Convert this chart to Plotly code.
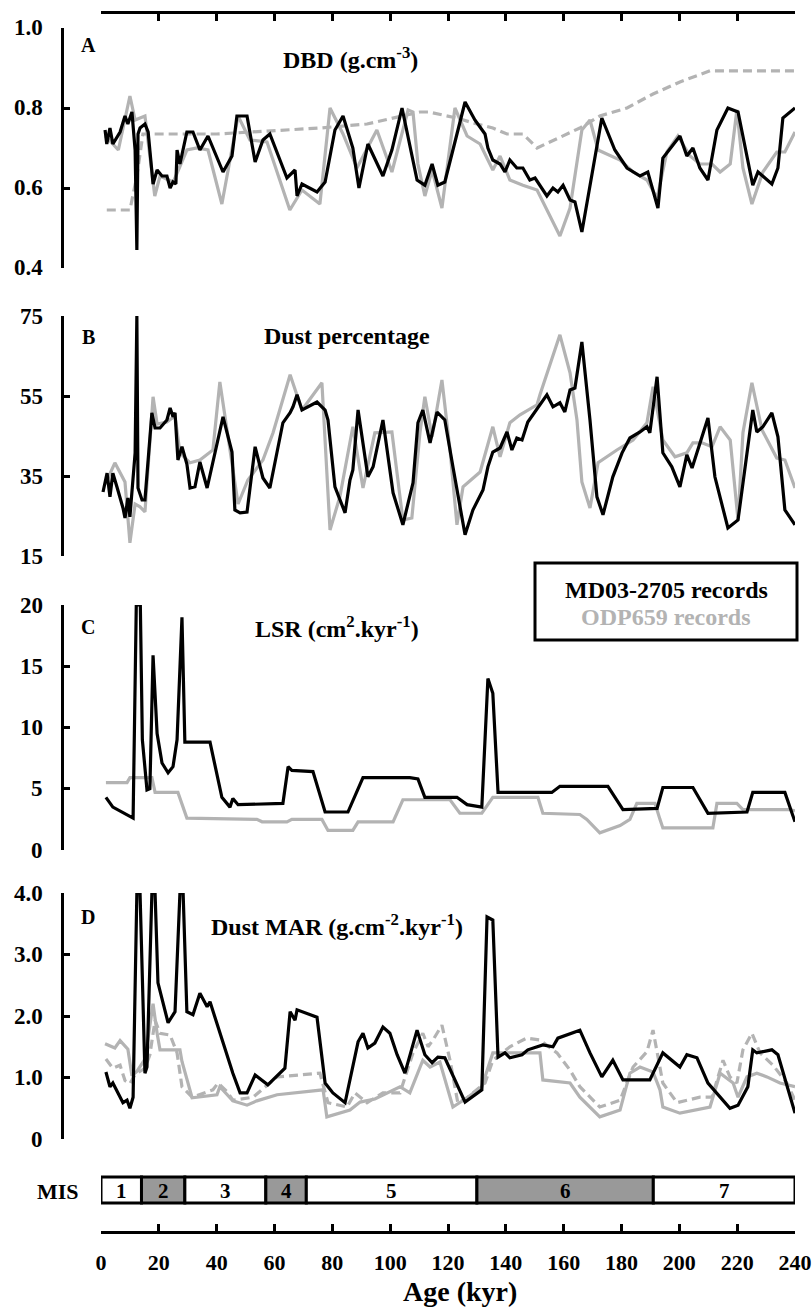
import plotly.graph_objects as go

# ---------------- DATA ----------------
# Panel A: DBD (g.cm-3)
age_A_md = [1.4, 2.0, 3.1, 4.1, 6.6, 8.3, 9.3, 10.7, 11.8, 12.4,
            12.8, 13.5, 15.2, 16.3, 18.0, 19.4, 21.1, 22.8, 23.9, 24.9,
            25.9, 26.3, 27.3, 29.7, 31.8, 34.2, 37.0, 42.2, 45.3, 47.0,
            50.5, 53.3, 56.0, 58.4, 64.3, 67.1, 67.8, 69.5, 74.7, 77.5,
            80.9, 83.7, 87.1, 89.2, 92.3, 97.5, 100.6, 104.1, 109.3, 112.0,
            114.5, 116.5, 118.9, 125.9, 129.3, 132.8, 133.8, 135.5, 138.0, 139.7,
            141.4, 143.8, 145.9, 148.3, 150.1, 154.2, 156.3, 158.0, 159.8, 162.2,
            163.9, 166.3, 173.2, 177.7, 181.9, 186.4, 189.1, 192.6, 194.3, 200.2,
            202.6, 204.7, 207.1, 209.9, 213.0, 216.8, 220.3, 225.4, 227.2, 232.0,
            234.1, 235.8, 240.0]
dbd_md = [0.745, 0.71, 0.75, 0.71, 0.74, 0.78, 0.76, 0.79, 0.695, 0.445,
          0.735, 0.75, 0.76, 0.74, 0.61, 0.645, 0.63, 0.63, 0.60, 0.615,
          0.61, 0.695, 0.66, 0.74, 0.74, 0.695, 0.73, 0.64, 0.68, 0.78,
          0.78, 0.665, 0.72, 0.735, 0.625, 0.645, 0.58, 0.61, 0.59, 0.615,
          0.745, 0.78, 0.70, 0.60, 0.71, 0.63, 0.695, 0.80, 0.62, 0.607,
          0.66, 0.607, 0.615, 0.815, 0.77, 0.735, 0.70, 0.67, 0.66, 0.64,
          0.67, 0.65, 0.65, 0.62, 0.625, 0.58, 0.60, 0.59, 0.607, 0.57,
          0.565, 0.49, 0.775, 0.695, 0.65, 0.63, 0.64, 0.55, 0.675, 0.73,
          0.68, 0.70, 0.65, 0.62, 0.745, 0.80, 0.79, 0.607, 0.64, 0.61,
          0.65, 0.775, 0.80]

age_A_odp = [1.5, 6.0, 10.0, 11.8, 15.2, 18.6, 20.4, 25.0, 29.7, 33.2,
             37.0, 41.8, 47.4, 51.5, 57.4, 65.3, 69.5, 75.7, 79.2, 83.7,
             88.5, 95.4, 100.6, 106.2, 107.9, 109.6, 112.0, 114.5, 117.9, 122.4,
             126.6, 131.1, 135.5, 138.0, 141.4, 145.9, 150.8, 158.7, 162.2, 166.3,
             169.1, 171.9, 179.5, 184.0, 188.8, 192.3, 195.7, 199.5, 203.7, 207.1,
             211.3, 214.1, 217.6, 219.9, 222.0, 225.1, 228.9, 233.7, 236.5, 240.0]
dbd_odp = [0.73, 0.695, 0.83, 0.77, 0.78, 0.58, 0.63, 0.615, 0.695, 0.70,
           0.695, 0.56, 0.78, 0.72, 0.715, 0.545, 0.595, 0.56, 0.80, 0.735,
           0.65, 0.745, 0.64, 0.795, 0.79, 0.66, 0.58, 0.645, 0.55, 0.80,
           0.73, 0.71, 0.645, 0.68, 0.62, 0.607, 0.595, 0.48, 0.55, 0.745,
           0.77, 0.695, 0.67, 0.64, 0.62, 0.575, 0.69, 0.73, 0.68, 0.66,
           0.66, 0.64, 0.66, 0.795, 0.65, 0.56, 0.64, 0.69, 0.69, 0.74]

age_A_odp_dash = [2.0, 10.0, 12.4, 14.5, 40.0, 75.7, 92.0, 110.3, 113.4, 123.0,
                  130.0, 135.5, 140.4, 145.9, 150.8, 155.3, 165.6, 172.5, 181.9, 190.9,
                  200.2, 210.6, 240.0]
dbd_odp_dash = [0.545, 0.545, 0.63, 0.735, 0.735, 0.75, 0.76, 0.79, 0.79, 0.775,
                0.76, 0.75, 0.735, 0.735, 0.70, 0.715, 0.75, 0.78, 0.80, 0.835,
                0.865, 0.893, 0.893]

# Panel B: Dust percentage
age_B_md = [0.7, 2.1, 3.1, 4.1, 5.5, 7.6, 8.3, 9.3, 10.0, 11.8,
            12.4, 12.8, 14.2, 15.2, 17.6, 18.7, 20.4, 22.8, 23.9, 24.9,
            25.6, 26.3, 26.6, 28.0, 29.7, 30.8, 32.5, 34.2, 36.7, 42.2,
            45.3, 46.3, 48.1, 50.5, 53.3, 56.0, 58.4, 62.9, 65.4, 66.4,
            67.8, 69.5, 74.7, 77.5, 78.5, 80.9, 84.4, 86.1, 87.1, 88.9,
            92.3, 94.1, 97.5, 101.0, 104.4, 107.9, 109.6, 111.3, 113.8, 116.2,
            118.9, 121.7, 125.9, 128.6, 132.1, 133.8, 135.5, 138.0, 140.4, 142.1,
            143.8, 145.6, 147.6, 154.2, 156.3, 158.7, 160.4, 162.2, 163.9, 166.3,
            169.1, 171.5, 173.6, 177.0, 180.2, 182.9, 186.4, 188.8, 189.8, 192.3,
            194.3, 197.4, 200.2, 202.6, 204.4, 209.9, 212.3, 216.8, 220.3, 225.4,
            226.8, 228.9, 232.0, 234.1, 236.5, 240.0]
dust_md = [31, 35.7, 29.8, 35.7, 32.3, 27, 24.5, 29.5, 24.8, 40.8,
           75, 32, 29, 29, 50.8, 47, 47, 49, 52, 49.8,
           50.8, 44, 39, 42.3, 38, 32, 32.3, 38.5, 32, 49.8,
           41, 26.5, 25.8, 26, 42.3, 34.5, 32, 48.3, 50.8, 52.3,
           55.3, 51.5, 53.5, 51.5, 49, 32.3, 25.8, 34, 36.5, 51.5,
           34.8, 37.3, 49, 30.8, 22.8, 33.3, 48.3, 51.5, 43.3, 51,
           49, 37.3, 20.3, 26.5, 31.5, 37.3, 41, 42, 46, 41.5,
           44.5, 44, 48.5, 55.3, 52.3, 53.3, 51, 56.5, 57, 68.5,
           49, 29.8, 25.3, 34.8, 40.8, 44.5, 46, 47.3, 45.8, 59.8,
           40.8, 37.3, 32.3, 40.3, 37, 49.5, 34.8, 22, 24, 51.5,
           46, 47.3, 50.8, 44.8, 26.5, 22.8]

age_B_odp = [1.5, 4.8, 8.3, 10.0, 11.8, 13.5, 15.2, 18.0, 19.4, 22.8, 25.6,
             27.3, 30.8, 34.2, 38.7, 41.1, 47.4, 50.8, 56.0, 59.5, 65.4,
             69.5, 76.4, 79.2, 82.6, 87.1, 90.6, 94.7, 100.6, 104.4, 107.5,
             110.3, 112.0, 114.5, 117.9, 120.7, 123.1, 125.2, 131.1, 135.5, 138.0,
             141.4, 144.9, 150.8, 151.8, 158.7, 162.2, 164.6, 166.3, 169.1, 171.9,
             178.4, 184.0, 188.8, 190.9, 194.3, 198.5, 202.6, 204.7, 207.8, 211.3,
             214.1, 217.6, 220.3, 222.0, 225.1, 228.6, 233.7, 236.5, 240.0]
dust_odp = [33, 38.3, 33.5, 18.3, 28, 27.3, 26, 54.8, 48, 48.5, 50,
            40.8, 38.3, 39, 41.5, 58.5, 28, 34, 39, 45.8, 60.3,
            51.5, 58.3, 21.5, 29.8, 47.3, 32, 45.8, 46, 24, 24.5,
            45.8, 54.8, 44.8, 59, 41.5, 22.8, 32.3, 36, 47.3, 39.8,
            48.3, 50.3, 52.8, 55.3, 70.3, 60.8, 49, 33.5, 27, 38.3,
            41.5, 44, 48.3, 57.3, 44, 39.8, 40.8, 43.3, 43.3, 42.3,
            47.3, 44, 24, 45.8, 58.3, 46.5, 39.5, 39, 32]

# Panel C: LSR
age_C_md = [1.7, 4.1, 11.1, 12.2, 13.6, 14.3, 15.9, 16.9, 18.0, 19.4,
            21.1, 23.2, 24.9, 26.3, 28.0, 29.0, 37.7, 41.8, 44.6, 45.6,
            47.4, 62.9, 64.7, 66.0, 73.3, 77.5, 85.4, 90.6, 106.8, 109.6,
            112.0, 123.1, 126.6, 131.7, 133.8, 135.5, 137.3, 155.9, 158.7, 175.3,
            180.5, 192.3, 194.3, 204.7, 209.9, 223.4, 225.4, 236.5, 240.0]
lsr_md = [4.3, 3.5, 2.6, 20, 20, 9, 4.9, 5.0, 15.9, 9.5,
          7.1, 6.3, 6.8, 9, 19, 8.8, 8.8, 4.3, 3.5, 4.2,
          3.7, 3.8, 6.8, 6.5, 6.4, 3.1, 3.1, 5.9, 5.9, 5.8,
          4.3, 4.3, 3.7, 3.5, 14, 12.8, 4.7, 4.7, 5.2, 5.2,
          3.3, 3.4, 5.1, 5.1, 3.0, 3.1, 4.7, 4.7, 2.3]

age_C_odp = [1.7, 9.0, 10.0, 17.6, 18.7, 26.6, 29.7, 53.9, 55.7, 64.3,
             66.0, 76.4, 78.5, 87.1, 88.9, 101.0, 104.4, 120.7, 124.1, 131.7,
             135.5, 151.1, 152.8, 165.6, 168.0, 172.5, 179.5, 182.9, 185.3, 191.6,
             193.3, 194.3, 211.6, 213.0, 219.9, 222.0, 238.2, 240.0]
lsr_odp = [5.5, 5.5, 5.9, 5.9, 4.7, 4.7, 2.6, 2.5, 2.3, 2.3,
           2.5, 2.5, 1.6, 1.6, 2.3, 2.3, 4.1, 4.1, 3.0, 3.0,
           4.3, 4.3, 3.0, 2.9, 2.5, 1.4, 2.0, 2.5, 3.8, 3.8,
           2.5, 1.8, 1.8, 3.8, 3.8, 3.3, 3.3, 3.2]

# Panel D: Dust MAR
age_D_md = [1.7, 3.1, 4.1, 7.6, 9.0, 10.0, 11.1, 12.4, 13.5, 15.2,
            15.9, 17.6, 18.7, 19.7, 23.2, 25.6, 27.3, 28.4, 29.7, 31.8,
            34.2, 36.7, 37.7, 45.6, 48.1, 50.5, 53.3, 57.7, 63.6, 65.4,
            67.1, 67.8, 74.7, 77.5, 80.2, 84.4, 88.9, 90.6, 92.3, 94.7,
            97.5, 99.9, 102.4, 105.1, 109.3, 112.0, 114.5, 116.5, 118.9, 125.9,
            131.7, 133.5, 135.5, 137.3, 139.7, 141.4, 145.6, 147.6, 152.8, 156.3,
            158.0, 161.1, 165.6, 169.1, 173.2, 177.0, 180.5, 189.8, 194.3, 200.2,
            202.6, 206.1, 209.9, 217.5, 220.3, 223.7, 225.4, 226.8, 232.0, 234.1,
            237.2, 240.0]
mar_md = [1.09, 0.85, 0.91, 0.59, 0.63, 0.50, 0.68, 4.0, 4.0, 1.07,
          1.17, 4.0, 4.0, 2.54, 1.89, 2.07, 4.0, 4.0, 2.07, 2.02,
          2.37, 2.15, 2.23, 1.07, 0.75, 0.75, 1.04, 0.88, 1.15, 2.07,
          1.93, 2.1, 1.98, 0.91, 0.75, 0.59, 1.58, 1.72, 1.48, 1.56,
          1.82, 1.72, 1.37, 1.07, 1.77, 1.37, 1.24, 1.33, 1.32, 0.60,
          0.80, 3.61, 3.56, 1.33, 1.40, 1.32, 1.37, 1.45, 1.53, 1.50,
          1.64, 1.69, 1.77, 1.40, 1.01, 1.28, 0.96, 0.96, 1.40, 1.17,
          1.37, 1.32, 0.91, 0.50, 0.55, 0.85, 1.45, 1.40, 1.45, 1.37,
          0.85, 0.42]

age_D_odp = [1.4, 4.8, 6.6, 9.3, 10.7, 12.4, 15.2, 18.0, 19.4, 20.4,
             27.3, 28.0, 31.5, 40.1, 41.1, 45.6, 50.5, 53.9, 60.9, 76.8,
             78.1, 86.1, 89.6, 94.7, 103.4, 106.8, 111.3, 113.8, 117.2, 121.7,
             126.6, 131.7, 135.5, 151.8, 152.8, 162.2, 165.6, 172.5, 179.5, 182.9,
             186.4, 190.9, 193.3, 194.3, 200.2, 210.6, 214.1, 218.6, 220.3, 223.4,
             226.8, 230.3, 234.8, 240.0]
mar_odp = [1.55, 1.48, 1.60, 1.46, 1.03, 1.1, 1.3, 2.2, 1.72, 1.45,
           1.45, 1.26, 0.67, 0.72, 0.85, 0.62, 0.55, 0.62, 0.72, 0.80,
           0.36, 0.47, 0.60, 0.65, 0.85, 0.75, 1.28, 1.17, 1.25, 0.52,
           0.67, 0.85, 1.40, 1.40, 0.96, 0.91, 0.68, 0.36, 0.47, 1.07,
           1.17, 1.09, 0.80, 0.52, 0.42, 0.52, 1.07, 0.91, 0.68, 1.01,
           1.07, 1.01, 0.91, 0.85]

age_D_odp_dash = [1.7, 4.1, 6.6, 8.3, 10.0, 11.8, 15.2, 16.9, 18.7, 20.4,
                  23.9, 26.3, 28.0, 31.5, 38.7, 40.5, 43.6, 45.6, 52.6, 60.9,
                  75.7, 78.5, 85.1, 87.8, 92.0, 97.5, 103.4, 107.9, 111.3, 113.1,
                  114.8, 117.9, 120.7, 123.4, 126.6, 132.8, 135.5, 141.4, 147.2, 151.8,
                  157.7, 162.2, 165.6, 172.5, 179.5, 184.0, 188.8, 190.9, 194.3, 199.2,
                  207.1, 211.3, 215.1, 217.5, 219.9, 222.0, 225.1, 227.9, 232.4, 237.2,
                  240.0]
mar_odp_dash = [1.3, 1.15, 1.2, 0.95, 0.9, 1.05, 1.15, 1.37, 1.93, 1.72,
                1.69, 1.40, 0.85, 0.68, 0.80, 0.91, 0.77, 0.63, 0.68, 1.01,
                1.07, 0.59, 0.52, 0.75, 0.59, 0.75, 0.75, 1.40, 1.72, 1.50,
                1.61, 1.85, 1.28, 0.59, 0.67, 0.91, 1.28, 1.50, 1.64, 1.61,
                1.40, 1.12, 0.85, 0.52, 0.63, 1.17, 1.42, 1.77, 0.91, 0.59,
                0.68, 0.68, 1.28, 1.01, 0.91, 1.45, 1.72, 1.40, 1.20, 0.91,
                0.63]

# Marine isotope stages
mis_bounds = [0, 14, 29, 57, 71, 130, 191, 240]
mis_labels = ["1", "2", "3", "4", "5", "6", "7"]
mis_glacial = [False, True, False, True, False, True, False]

x_ticks = list(range(0, 241, 20))

# y tick labels
yA_ticks = [0.4, 0.6, 0.8, 1.0]
yA_text = ["0.4", "0.6", "0.8", "1.0"]
yB_ticks = [15, 35, 55, 75]
yB_text = ["15", "35", "55", "75"]
yC_ticks = [0, 5, 10, 15, 20]
yC_text = ["0", "5", "10", "15", "20"]
yD_ticks = [0, 1, 2, 3, 4]
yD_text = ["0", "1.0", "2.0", "3.0", "4.0"]

# ---------------- STYLE ----------------
W, H = 812, 1310
FONT = "Liberation Serif, Times New Roman, serif"
BLACK = "#000000"
GRAY = "#b3b3b3"
LW = 3.2


def fx(px):
    return px / W


def fy(py):
    return 1 - py / H


fig = go.Figure()


def add_line(x, y, yaxis, color, dash=None, width=LW):
    fig.add_trace(go.Scatter(
        x=x, y=y, mode="lines", xaxis="x", yaxis=yaxis,
        line=dict(color=color, width=width, dash=dash),
        showlegend=False, hoverinfo="skip"))


DASH = "9px,5px"
# gray first so black is on top
add_line(age_A_odp_dash, dbd_odp_dash, "y", GRAY, DASH)
add_line(age_A_odp, dbd_odp, "y", GRAY)
add_line(age_A_md, dbd_md, "y", BLACK)

add_line(age_B_odp, dust_odp, "y2", GRAY)
add_line(age_B_md, dust_md, "y2", BLACK)

add_line(age_C_odp, lsr_odp, "y3", GRAY)
add_line(age_C_md, lsr_md, "y3", BLACK)

add_line(age_D_odp_dash, mar_odp_dash, "y4", GRAY, DASH)
add_line(age_D_odp, mar_odp, "y4", GRAY)
add_line(age_D_md, mar_md, "y4", BLACK)

# invisible trace for top axis
fig.add_trace(go.Scatter(x=[0, 240], y=[0.4, 0.4], mode="lines", xaxis="x2", yaxis="y",
                         line=dict(width=0, color="rgba(0,0,0,0)"),
                         showlegend=False, hoverinfo="skip"))

x_dom = [fx(101), fx(795)]

common_y = dict(anchor="free", position=fx(62), showline=True, linecolor="black",
                linewidth=3, ticks="inside", ticklen=6, tickwidth=3, tickcolor="black",
                showgrid=False, zeroline=False, showticklabels=False, automargin=False)

fig.update_layout(
    template="none",
    width=W, height=H, autosize=False,
    margin=dict(l=0, r=0, t=0, b=0, pad=0),
    paper_bgcolor="white", plot_bgcolor="rgba(0,0,0,0)",
    xaxis=dict(domain=x_dom, range=[0, 240], anchor="free", position=fy(1232),
               showline=True, linecolor="black", linewidth=3,
               ticks="inside", ticklen=7, tickwidth=3, tickcolor="black",
               tickvals=x_ticks, showgrid=False, zeroline=False, automargin=False,
               tickfont=dict(family=FONT, size=22, color="black", weight="bold"),
               ticklabelstandoff=10),
    xaxis2=dict(domain=x_dom, range=[0, 240], anchor="free", position=fy(12),
                overlaying="x", side="top", automargin=False,
                showline=True, linecolor="black", linewidth=3,
                ticks="inside", ticklen=7, tickwidth=3, tickcolor="black",
                tickvals=x_ticks, showticklabels=False, showgrid=False, zeroline=False),
    yaxis=dict(domain=[fy(268), fy(28)], range=[0.4, 1.0], tickvals=yA_ticks, **common_y),
    yaxis2=dict(domain=[fy(556), fy(316)], range=[15, 75], tickvals=yB_ticks, **common_y),
    yaxis3=dict(domain=[fy(850), fy(605)], range=[0, 20], tickvals=yC_ticks, **common_y),
    yaxis4=dict(domain=[fy(1139), fy(893)], range=[0, 4], tickvals=yD_ticks, **common_y),
)

annotations = []


def txt(text, px, py, size, color="black", xanchor="center"):
    annotations.append(dict(text=text, x=fx(px), y=fy(py), xref="paper", yref="paper",
                            xanchor=xanchor, yanchor="middle", showarrow=False,
                            font=dict(family=FONT, size=size, color=color, weight="bold")))


# y tick labels (placed left of the axis line, as in the reference)
for yref, ticks, texts in [("y", yA_ticks, yA_text), ("y2", yB_ticks, yB_text),
                           ("y3", yC_ticks, yC_text), ("y4", yD_ticks, yD_text)]:
    for v, t in zip(ticks, texts):
        annotations.append(dict(text=t, x=fx(45), y=v, xref="paper", yref=yref,
                                xanchor="right", yanchor="middle", showarrow=False,
                                font=dict(family=FONT, size=23, color="black", weight="bold")))

# panel letters
for letter, py in [("A", 45), ("B", 337), ("C", 627), ("D", 917)]:
    txt(letter, 88, py, 20)

# panel titles
txt("DBD (g.cm<sup>-3</sup>)", 350, 58, 24)
txt("Dust percentage", 347, 336, 24)
txt("LSR (cm<sup>2</sup>.kyr<sup>-1</sup>)", 337, 627, 24)
txt("Dust MAR (g.cm<sup>-2</sup>.kyr<sup>-1</sup>)", 337, 925, 24)

# legend
txt("MD03-2705 records", 666, 590, 24)
txt("ODP659 records", 666, 617, 24, color=GRAY)

# MIS label and axis title
txt("MIS", 58, 1191, 22)
txt("Age (kyr)", 460, 1291, 28)

shapes = [dict(type="rect", xref="paper", yref="paper", x0=fx(535), x1=fx(797),
               y0=fy(640), y1=fy(563), line=dict(color="black", width=3),
               fillcolor="rgba(0,0,0,0)")]

for i, lab in enumerate(mis_labels):
    a, b = mis_bounds[i], mis_bounds[i + 1]
    shapes.append(dict(type="rect", xref="x", yref="paper", x0=a, x1=b,
                       y0=fy(1203), y1=fy(1177),
                       line=dict(color="black", width=3),
                       fillcolor="#999999" if mis_glacial[i] else "white"))
    annotations.append(dict(text=lab, x=(a + b) / 2, y=fy(1191), xref="x", yref="paper",
                            xanchor="center", yanchor="middle", showarrow=False,
                            font=dict(family=FONT, size=21, color="black", weight="bold")))

fig.update_layout(shapes=shapes, annotations=annotations)

fig.write_html(
    "out.html",
    config={"displayModeBar": False, "responsive": False},
    default_width="812px",
    default_height="1310px",
    post_script="document.body.style.margin='0';document.body.style.padding='0';"
                "document.body.style.overflow='hidden';",
)
